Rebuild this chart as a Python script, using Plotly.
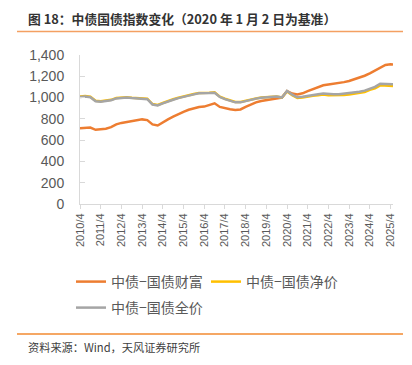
import plotly.graph_objects as go

dates = [
    "2010-04-01", "2010-07-01", "2010-10-01",
    "2011-01-01", "2011-04-01", "2011-07-01", "2011-10-01",
    "2012-01-01", "2012-04-01", "2012-07-01", "2012-10-01",
    "2013-01-01", "2013-04-01", "2013-07-01", "2013-10-01",
    "2014-01-01", "2014-04-01", "2014-07-01", "2014-10-01",
    "2015-01-01", "2015-04-01", "2015-07-01", "2015-10-01",
    "2016-01-01", "2016-04-01", "2016-07-01", "2016-10-01",
    "2017-01-01", "2017-04-01", "2017-07-01", "2017-10-01",
    "2018-01-01", "2018-04-01", "2018-07-01", "2018-10-01",
    "2019-01-01", "2019-04-01", "2019-07-01", "2019-10-01",
    "2020-01-02", "2020-04-01", "2020-07-01", "2020-10-01",
    "2021-01-01", "2021-04-01", "2021-07-01", "2021-10-01",
    "2022-01-01", "2022-04-01", "2022-07-01", "2022-10-01",
    "2023-01-01", "2023-04-01", "2023-07-01", "2023-10-01",
    "2024-01-01", "2024-04-01", "2024-07-01", "2024-10-01",
    "2025-01-01", "2025-04-01", "2025-05-15",
]

wealth = [
    711, 716, 718,
    697, 700, 708, 722,
    748, 762, 770, 778,
    786, 795, 788, 748,
    738, 768, 795, 820,
    845, 866, 885, 900,
    912, 915, 930, 946,
    912, 900, 890, 884,
    888, 912, 935, 955,
    968, 977, 988, 995,
    1000, 1062, 1038, 1030,
    1040, 1060, 1080, 1100,
    1115, 1122, 1128, 1134,
    1145, 1156, 1170, 1186,
    1205, 1228, 1255, 1282,
    1306, 1312, 1310,
]

net_price = [
    1010, 1014, 1008,
    970, 966, 969, 979,
    996, 1002, 1004, 999,
    997, 997, 989, 939,
    930, 949, 969, 984,
    999, 1012, 1022, 1034,
    1044, 1042, 1046, 1050,
    1009, 989, 972, 959,
    958, 971, 980, 992,
    1000, 1003, 1008, 1010,
    1000, 1058, 1022, 996,
    1000, 1010, 1016, 1022,
    1029, 1022, 1021, 1020,
    1024, 1028, 1038, 1042,
    1051, 1072, 1086, 1115,
    1110, 1106, 1108,
]

full_price = [
    1006, 1010, 1004,
    966, 962, 965, 975,
    992, 998, 1000, 995,
    993, 993, 985, 935,
    926, 945, 965, 980,
    995, 1008, 1018, 1030,
    1040, 1038, 1042, 1046,
    1005, 985, 968, 955,
    955, 968, 977, 990,
    998, 1002, 1008, 1010,
    1000, 1062, 1028, 1003,
    1008, 1018, 1025, 1031,
    1038, 1032, 1031, 1031,
    1036, 1040, 1050, 1055,
    1065, 1085, 1100, 1130,
    1125, 1122, 1124,
]

x_ticks = ["%d-04-01" % y for y in range(2010, 2026)]
y_ticks = [0, 200, 400, 600, 800, 1000, 1200, 1400]

names = ["中债−国债财富", "中债−国债净价", "中债−国债全价"]
colors = ["#ED7D31", "#FFC000", "#A5A5A5"]

cjk = "Noto Sans CJK SC"
lat = "Liberation Sans, Arial, " + cjk

fig = go.Figure()
fig.add_trace(go.Scatter(x=dates, y=wealth, name=names[0], mode="lines",
                         line=dict(color=colors[0], width=2.5), legend="legend"))
fig.add_trace(go.Scatter(x=dates, y=net_price, name=names[1], mode="lines",
                         line=dict(color=colors[1], width=2.5), legend="legend2"))
fig.add_trace(go.Scatter(x=dates, y=full_price, name=names[2], mode="lines",
                         line=dict(color=colors[2], width=2.5), legend="legend3"))

# the page body adds an 8px offset; compensate so the chart lands where the reference has it
OFF = 8
W, H = 412, 365
L, R, T, B = 80 - OFF, 19 + OFF, 55 - OFF, 161 + OFF
pw, ph = W - L - R, H - T - B


def px(x):
    return (x - OFF - L) / pw


def py(y):
    return (H - B - (y - OFF)) / ph


leg_font = dict(family=cjk, size=14, color="#595959")


def leg(x, y):
    return dict(orientation="h", x=px(x), y=py(y), xanchor="left", yanchor="top",
                font=leg_font, bgcolor="rgba(0,0,0,0)")


fig.update_layout(
    width=W, height=H,
    margin=dict(l=L, r=R, t=T, b=B, pad=0, autoexpand=False),
    paper_bgcolor="white", plot_bgcolor="white",
    showlegend=True,
    legend=leg(71, 266),
    legend2=leg(206, 266),
    legend3=leg(71, 292),
    xaxis=dict(type="date", range=["2010-04-01", "2025-05-15"],
               tickvals=x_ticks, tickformat="%Y/%-m", tickangle=-90,
               showgrid=False, zeroline=False,
               showline=True, linecolor="#D9D9D9", linewidth=1,
               ticks="outside", ticklen=4, tickcolor="#D9D9D9",
               tickfont=dict(family=lat, size=11, color="#595959")),
    yaxis=dict(range=[0, 1400], tickvals=y_ticks, tickformat=",d",
               showgrid=False, zeroline=False,
               showline=True, linecolor="#D9D9D9", linewidth=1,
               ticks="inside", ticklen=5, tickcolor="#D9D9D9",
               ticklabelstandoff=12,
               tickfont=dict(family=lat, size=14, color="#595959")),
    annotations=[
        dict(text="<b>图 18：中债国债指数变化（2020 年 1 月 2 日为基准）</b>",
             xref="paper", yref="paper", x=px(26), y=py(18.5),
             xanchor="left", yanchor="middle", showarrow=False,
             font=dict(family=cjk, size=12.8, color="#333333")),
        dict(text="资料来源：Wind，天风证券研究所",
             xref="paper", yref="paper", x=px(26), y=py(347),
             xanchor="left", yanchor="middle", showarrow=False,
             font=dict(family=cjk, size=11.2, color="#404040")),
    ],
    shapes=[
        dict(type="line", xref="paper", yref="paper", x0=px(17), x1=px(403),
             y0=py(31.5), y1=py(31.5), line=dict(color="#F4A062", width=1.5)),
        dict(type="line", xref="paper", yref="paper", x0=px(17), x1=px(403),
             y0=py(334), y1=py(334), line=dict(color="#F28A30", width=1.5)),
    ],
)

fig.write_html("out.html")
